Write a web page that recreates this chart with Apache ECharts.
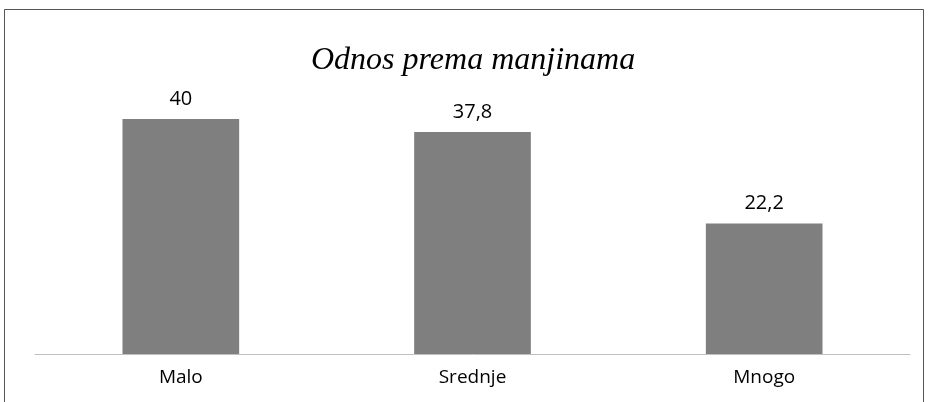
<!DOCTYPE html>
<html><head><meta charset="utf-8">
<script src="https://cdn.jsdelivr.net/npm/echarts@6/dist/echarts.min.js"></script>
<style>html,body{margin:0;padding:0;background:#fff}#c{width:928px;height:402px}</style>
</head><body><div id="c"></div>
<script>
const titleText = 'Odnos prema manjinama';
const categories = ['Malo', 'Srednje', 'Mnogo'];
const values = [40, 37.8, 22.2];

const chart = echarts.init(document.getElementById('c'));
chart.setOption({
  animation: false,
  backgroundColor: '#fff',
  title: {
    text: titleText, left: 306, top: 40,
    textStyle: { fontFamily: 'Liberation Serif', fontStyle: 'italic', fontWeight: 'normal', fontSize: 32, color: '#000' }
  },
  graphic: [{
    type: 'rect', shape: { x: 4.5, y: 9.5, width: 919, height: 400 },
    style: { fill: 'none', stroke: '#555', lineWidth: 1 }, silent: true
  }],
  grid: { left: 35, right: 18, top: 119, bottom: 48 },
  xAxis: {
    type: 'category', data: categories,
    axisLine: { lineStyle: { color: '#bfbfbf', width: 1 } },
    axisTick: { show: false },
    axisLabel: { color: '#000', fontSize: 19, fontFamily: 'Open Sans', margin: 14 }
  },
  yAxis: {
    type: 'value', min: 0, max: 40, show: false,
    splitLine: { show: false }
  },
  series: [{
    type: 'bar', data: values, barWidth: '40%',
    itemStyle: { color: '#7f7f7f' },
    label: {
      show: true, position: 'top', distance: 10, color: '#000', fontSize: 20, fontFamily: 'Open Sans',
      formatter: p => String(p.value).replace('.', ',')
    }
  }]
});
</script></body></html>
